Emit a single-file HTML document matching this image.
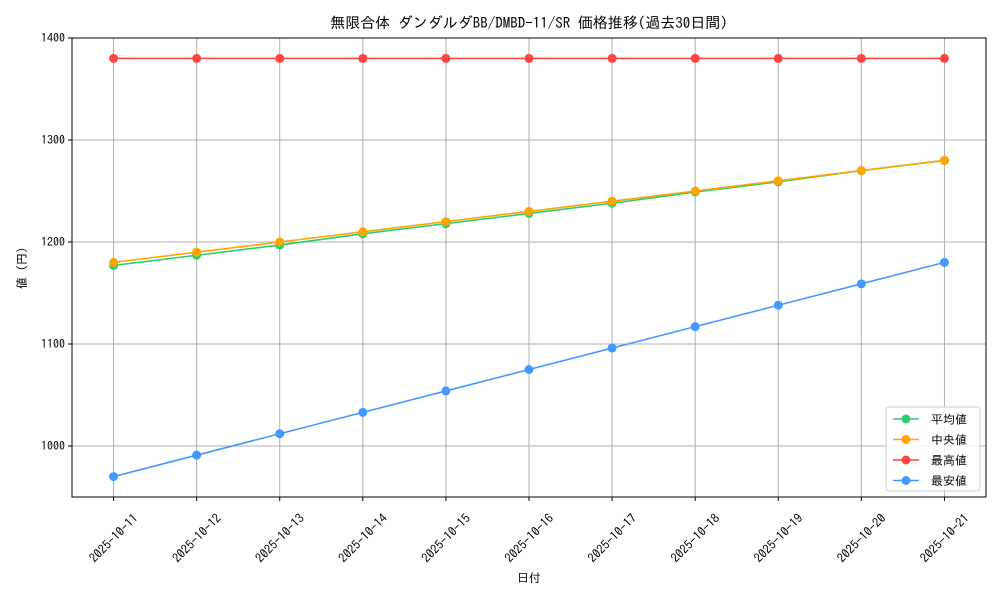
<!DOCTYPE html>
<html><head><meta charset="utf-8"><style>
body{margin:0;background:#fff;}
svg text{font-family:"IPAGothic","Liberation Mono","Noto Sans CJK JP",monospace;fill:#000;}
</style></head><body>
<svg id="chart" width="1000" height="600" xmlns="http://www.w3.org/2000/svg">
<rect x="0" y="0" width="1000" height="600" fill="#fff"/>
<text x="529" y="28" font-size="15" text-anchor="middle">無限合体 ダンダルダBB/DMBD-11/SR 価格推移(過去30日間)</text>
<g id="grid"></g>
<g id="axes"></g>
<g id="series"></g>
<text x="529" y="582" font-size="12" text-anchor="middle">日付</text>
<text transform="translate(26,268) rotate(-90)" font-size="12" text-anchor="middle">値 (円)</text>
<g id="legend"></g>
</svg>
<script>
const categories=["2025-10-11","2025-10-12","2025-10-13","2025-10-14","2025-10-15","2025-10-16","2025-10-17","2025-10-18","2025-10-19","2025-10-20","2025-10-21"];
const meanValues=[1177,1187,1197,1208,1218,1228,1238,1249,1259,1270,1280];
const medianValues=[1180,1190,1200,1210,1220,1230,1240,1250,1260,1270,1280];
const maxValues=[1380,1380,1380,1380,1380,1380,1380,1380,1380,1380,1380];
const minValues=[970,991,1012,1033,1054,1075,1096,1117,1138,1159,1180];
const yTicks=[1000,1100,1200,1300,1400];
const seriesNames=["平均値","中央値","最高値","最安値"];
const seriesColors=["#2ecc71","#ffa500","#ff4444","#4499ff"];

const NS="http://www.w3.org/2000/svg";
const L=72,R=986,T=38,B=497,yMin=950,yMax=1400;
function xs(i){const n=categories.length-1;return L+(R-L)*(i+0.5)/(n+1);}
function ys(v){return B-(v-yMin)/(yMax-yMin)*(B-T);}
function mk(tag,attrs,parent){const e=document.createElementNS(NS,tag);for(const k in attrs)e.setAttribute(k,attrs[k]);parent.appendChild(e);return e;}
const grid=document.getElementById('grid'),axes=document.getElementById('axes'),series=document.getElementById('series'),legend=document.getElementById('legend');
categories.forEach((c,i)=>{
  const x=xs(i);
  const g=mk('line',{x1:x,x2:x,y1:T,y2:B,stroke:'#b0b0b0','stroke-width':1},grid);
  
  
  const t=mk('line',{x1:x,x2:x,y1:B,y2:B+4,stroke:'#000'},axes);
  
  
  const lb=mk('text',{'font-size':12.5,'text-anchor':'middle','dominant-baseline':'central',transform:`translate(${x},${B+41}) rotate(-45)`},axes);
  lb.textContent=c;
  
  
});
yTicks.forEach(v=>{
  const y=ys(v);
  const g=mk('line',{x1:L,x2:R,y1:y,y2:y,stroke:'#b0b0b0','stroke-width':1},grid);
  
  
  const t=mk('line',{x1:L-4,x2:L,y1:y,y2:y,stroke:'#000'},axes);
  
  
  const lb=mk('text',{x:L-7,y:y+4,'font-size':12,'text-anchor':'end'},axes);
  lb.textContent=v;
  
  
});
const frame=mk('rect',{x:L,y:T,width:R-L,height:B-T,fill:'none',stroke:'#000','stroke-width':1},axes);


const allSeries=[meanValues,medianValues,maxValues,minValues];
const keys=['mean','median','max','min'];
allSeries.forEach((vals,s)=>{
  const g=mk('g',{},series);
  
  
  const p=mk('polyline',{points:vals.map((v,i)=>xs(i)+','+ys(v)).join(' '),fill:'none',stroke:seriesColors[s],'stroke-width':1.6},g);
  
  
  vals.forEach((v,i)=>{
    const c=mk('circle',{cx:xs(i),cy:ys(v),r:4.5,fill:seriesColors[s]},g);
    
    
  });
});
const lb=mk('rect',{x:886,y:407,width:94,height:84,rx:3,fill:'#fff','fill-opacity':0.85,stroke:'#ccc'},legend);


seriesNames.forEach((n,s)=>{
  const y=419+s*20.5;
  const g=mk('g',{},legend);
  
  
  mk('line',{x1:893,x2:919,y1:y,y2:y,stroke:seriesColors[s],'stroke-width':1.6},g);
  mk('circle',{cx:906,cy:y,r:4.5,fill:seriesColors[s]},g);
  const t=mk('text',{x:931,y:y+4.5,'font-size':12},g);
  t.textContent=n;
});
</script>
</body></html>
